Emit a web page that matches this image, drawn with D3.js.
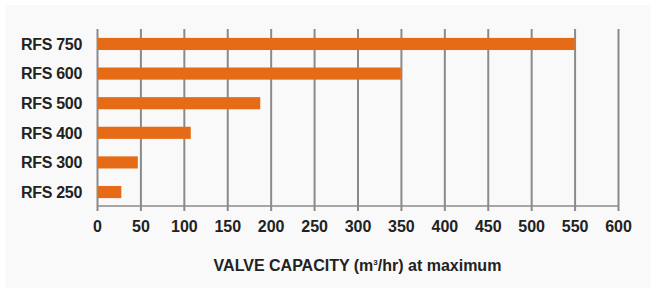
<!DOCTYPE html>
<html>
<head>
<meta charset="utf-8">
<script src="https://cdn.jsdelivr.net/npm/d3@7"></script>
<style>
    body { margin: 0; background: #ffffff; }
    svg text { font-family: "Liberation Sans", Arial, Helvetica, sans-serif; font-weight: bold; fill: #222222; }
</style>
</head>
<body>
<svg id="chart"></svg>
<script>
// data
let valves = ['RFS 750', 'RFS 600', 'RFS 500', 'RFS 400', 'RFS 300', 'RFS 250'];
let capacity = [550, 350, 188, 108, 47, 28];
let xTicks = [0, 50, 100, 150, 200, 250, 300, 350, 400, 450, 500, 550, 600];

// sizes
let width = 656;
let height = 289;
let plotLeft = 97;
let plotRight = 618;
let plotTop = 29;
let plotBottom = 206;

let svg = d3.select('#chart')
    .attr('width', width)
    .attr('height', height);

// panel background
svg.append('rect')
    .attr('x', 5)
    .attr('y', 5)
    .attr('width', 646)
    .attr('height', 283)
    .style('fill', '#f9f9f9');

// scales
let xScale = d3.scaleLinear()
    .domain([0, 600])
    .range([plotLeft, plotRight]);

let yScale = d3.scaleBand()
    .domain(valves)
    .range([plotTop, plotBottom + 1])
    .paddingInner(0.59)
    .paddingOuter(0.3);

// vertical gridlines
svg.append('g')
    .attr('transform', `translate(0, ${plotBottom + 5})`)
    .call(d3.axisBottom(xScale)
        .tickValues(xTicks)
        .tickSize(-(plotBottom + 5 - plotTop))
        .tickFormat(''))
    .call(g => g.select('.domain').remove())
    .call(g => g.selectAll('.tick line')
        .style('stroke', '#8a8a8a')
        .style('stroke-width', 2));

// x axis line
svg.append('line')
    .attr('x1', xScale(0))
    .attr('x2', xScale(600))
    .attr('y1', plotBottom)
    .attr('y2', plotBottom)
    .style('stroke', '#8a8a8a')
    .style('stroke-width', 1.5);

// bars
let data = valves.map((v, i) => ({ name: v, value: capacity[i] }));

svg.append('g')
    .selectAll('rect')
    .data(data)
    .enter()
    .append('rect')
    .attr('x', xScale(0) + 1)
    .attr('y', d => yScale(d.name))
    .attr('width', d => xScale(d.value) - xScale(0) - 1)
    .attr('height', yScale.bandwidth())
    .style('fill', '#e66b16');

// tick labels
svg.append('g')
    .attr('transform', `translate(0, ${plotBottom + 5})`)
    .call(d3.axisBottom(xScale)
        .tickValues(xTicks)
        .tickSize(0)
        .tickPadding(10))
    .call(g => g.select('.domain').remove())
    .call(g => g.selectAll('.tick text')
        .style('font-size', '16px')
        .style('fill', '#222222'));

// category labels
svg.append('g')
    .selectAll('text')
    .data(valves)
    .enter()
    .append('text')
    .attr('x', 82)
    .attr('y', d => yScale(d) + yScale.bandwidth() / 2)
    .attr('dy', '0.36em')
    .style('text-anchor', 'end')
    .style('font-size', '16px')
    .style('letter-spacing', '-0.3px')
    .text(d => d);

// axis title
let title = svg.append('text')
    .attr('x', (plotLeft + plotRight) / 2)
    .attr('y', 271)
    .style('text-anchor', 'middle')
    .style('font-size', '16px');
title.append('tspan').text('VALVE CAPACITY (m');
title.append('tspan').text('3').style('font-size', '8px').attr('dy', -6);
title.append('tspan').text('/hr) at maximum').attr('dy', 6);
</script>
</body>
</html>
